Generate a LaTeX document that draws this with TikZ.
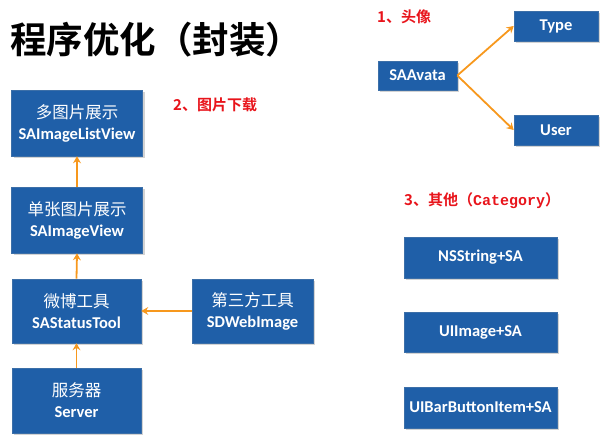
\documentclass[tikz,border=0pt]{standalone}
\usepackage{fontspec}
\setmainfont{Carlito}
\newfontfamily\cjk{Noto Sans CJK SC}
\newfontfamily\cjkb{Noto Sans CJK SC Bold}
\newfontfamily\monof{Liberation Mono}
\usetikzlibrary{arrows.meta,shadows}
\definecolor{boxblue}{HTML}{1F5FA8}
\definecolor{boxedge}{HTML}{3C6FA8}
\definecolor{arrowor}{HTML}{F7981D}
\definecolor{labred}{HTML}{E8141B}
\newcommand{\zh}[1]{{\cjk\mdseries #1}}
\tikzset{
  bbox/.style={draw=boxedge, line width=0.6pt, fill=boxblue, text=white, inner sep=0pt,
    align=center, font=\fontsize{16.5}{21}\selectfont\bfseries,
    drop shadow={opacity=0.35, shadow xshift=2pt, shadow yshift=-2pt}},
  conn/.style={draw=arrowor, line width=1.8pt, -{Stealth[length=7pt,width=8pt,inset=2.5pt]}},
  redlab/.style={text=labred, inner sep=0pt, anchor=west, font=\fontsize{15}{17}\selectfont\cjkb}
}
\begin{document}
\begin{tikzpicture}[x=1pt,y=-1pt]
\useasboundingbox (0,0) rectangle (600,441);
% title
\node (title) [inner sep=0pt, anchor=west, font=\fontsize{36.5}{42}\selectfont\cjkb] at (10,40) {程序优化（封装）};
% section 1
\node (lab1) [redlab] at (377,17) {1、头像};
\node (type) [bbox, minimum width=84pt, minimum height=30pt] at (556,26) {Type};
\node (avata) [bbox, minimum width=79pt, minimum height=29pt] at (417.5,75.5) {SAAvata};
\node (user) [bbox, minimum width=84pt, minimum height=30pt] at (556,130) {User};
\draw[conn] (avata.east) -- (type.west);
\draw[conn] (avata.east) -- (user.west);
% section 2
\node (lab2) [redlab] at (173,105) {2、图片下载};
\node (list) [bbox, minimum width=131pt, minimum height=66pt] at (77,123) {\zh{多图片展示}\\SAImageListView};
\node (single) [bbox, minimum width=131pt, minimum height=66pt] at (77,220) {\zh{单张图片展示}\\SAImageView};
\node (weibo) [bbox, minimum width=129pt, minimum height=64pt] at (76.5,311) {\zh{微博工具}\\SAStatusTool};
\node (third) [bbox, minimum width=121pt, minimum height=64pt] at (252.5,311) {\zh{第三方工具}\\SDWebImage};
\node (server) [bbox, minimum width=129pt, minimum height=65pt] at (76.5,400.5) {\zh{服务器}\\Server};
\draw[conn] (single.north) -- (list.south);
\draw[conn] (weibo.north) -- (single.south);
\draw[conn] (server.north) -- (weibo.south);
\draw[conn] (third.west) -- (weibo.east);
% section 3
\node (lab3) [redlab] at (404,201) {3、其他（{\monof\bfseries Category}）};
\node (nsstring) [bbox, minimum width=153pt, minimum height=41pt] at (480.5,257.5) {NSString+SA};
\node (uiimage) [bbox, minimum width=153pt, minimum height=40pt] at (480.5,332) {UIImage+SA};
\node (uibar) [bbox, minimum width=153pt, minimum height=41pt] at (480.5,407.5) {UIBarButtonItem+SA};
\end{tikzpicture}
\end{document}
